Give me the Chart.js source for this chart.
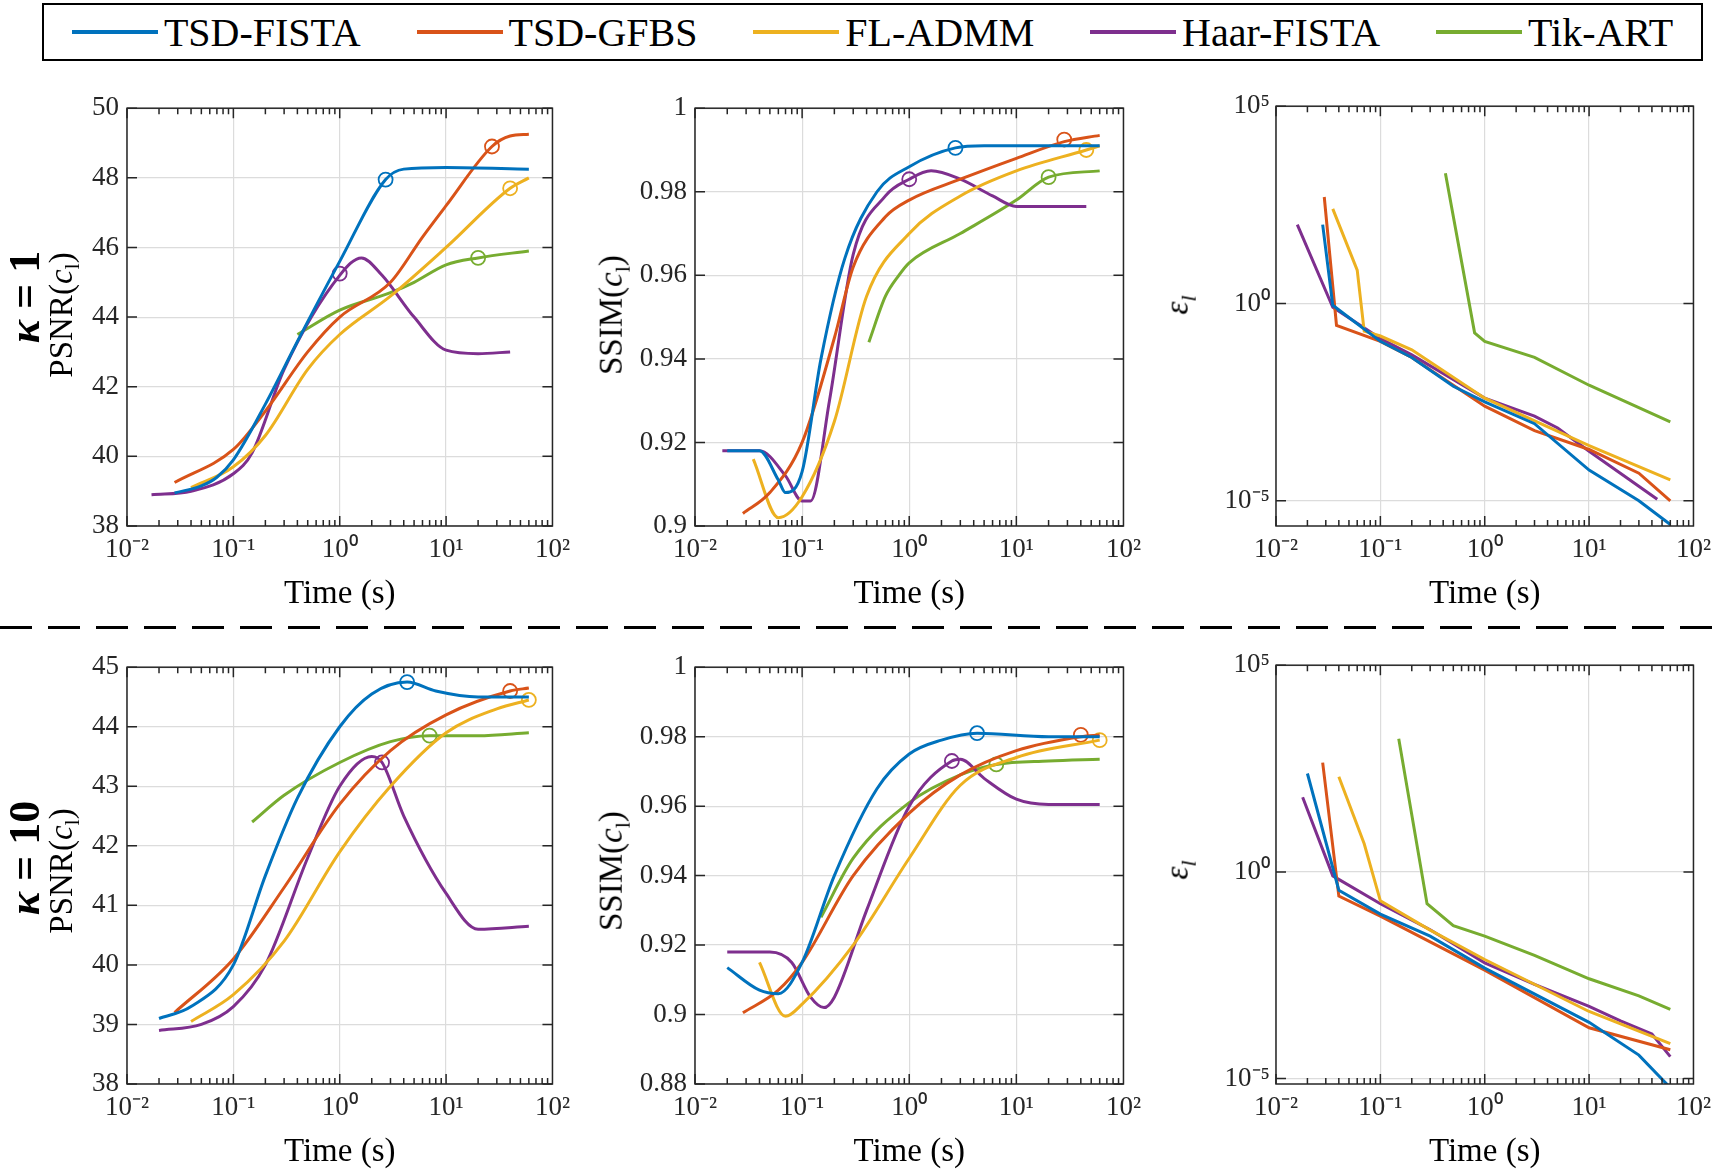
<!DOCTYPE html>
<html>
<head>
<meta charset="utf-8">
<script src="https://cdn.jsdelivr.net/npm/chart.js@4"></script>
<style>
  body { margin: 0; width: 1724px; height: 1174px; background: #fff; position: relative; overflow: hidden; font-family: "Liberation Serif", serif; }
  .panel { position: absolute; }
  .ylab { position: absolute; transform: translate(-50%, -50%) rotate(-90deg); white-space: nowrap; font-size: 33px; }
  .rowlab { position: absolute; transform: translate(-50%, -50%) rotate(-90deg); white-space: nowrap; font-size: 44px; font-weight: bold; }
  #legend { position: absolute; left: 42px; top: 3px; width: 1657px; height: 54px; border: 2px solid #000; display: flex; justify-content: space-around; align-items: center; font-size: 40px; }
  #legend span.item { display: flex; align-items: center; }
  #legend span.sw { display: inline-block; width: 86px; height: 4px; margin-right: 6px; }
  #dash { position: absolute; left: 0; top: 626px; width: 1724px; height: 3px;
          background: repeating-linear-gradient(to right, #000 0 32px, transparent 32px 48px); }
</style>
</head>
<body>
<div id="legend"></div>
<div id="dash"></div>
<script>
// series names and colours
const seriesNames = ["TSD-FISTA", "TSD-GFBS", "FL-ADMM", "Haar-FISTA", "Tik-ART"];
const seriesColors = ["#0072BD", "#D95319", "#EDB120", "#7E2F8E", "#77AC30"];

// kappa = 1, PSNR
const psnr1 = [
  [[0.028,38.95],[0.05,39.15],[0.07,39.4],[0.1,39.9],[0.2,41.5],[0.4,43.3],[1,45.6],[2.7,47.95],[4,48.25],[10,48.3],[60,48.25]],
  [[0.028,39.25],[0.1,40.2],[0.2,41.3],[0.5,43.0],[1,44.0],[3,45.0],[6,46.3],[10,47.2],[27,48.9],[40,49.2],[60,49.25]],
  [[0.04,39.1],[0.1,39.7],[0.2,40.6],[0.5,42.5],[1,43.5],[3,44.6],[10,46.0],[40,47.7],[60,48.0]],
  [[0.017,38.9],[0.04,39.0],[0.1,39.5],[0.15,40.1],[0.3,42.5],[1,45.2],[1.6,45.7],[2.5,45.2],[5,44.0],[10,43.05],[20,42.95],[40,43.0]],
  [[0.4,43.5],[1,44.2],[3,44.7],[5,45.0],[10,45.5],[20,45.7],[60,45.9]]
];
const psnr1Marks = [[2.7,47.95],[27,48.9],[40,47.7],[1,45.25],[20,45.7]];

// kappa = 1, SSIM
const ssim1 = [
  [[0.02,0.918],[0.04,0.918],[0.06,0.911],[0.07,0.908],[0.1,0.913],[0.15,0.94],[0.25,0.964],[0.5,0.980],[1,0.986],[2.7,0.9905],[5,0.991],[60,0.991]],
  [[0.028,0.903],[0.05,0.908],[0.1,0.92],[0.2,0.945],[0.3,0.962],[0.6,0.974],[1,0.978],[3,0.983],[10,0.988],[28,0.992],[60,0.9935]],
  [[0.035,0.916],[0.06,0.902],[0.1,0.907],[0.2,0.925],[0.4,0.955],[1,0.97],[3,0.979],[10,0.985],[45,0.990],[60,0.991]],
  [[0.018,0.918],[0.04,0.918],[0.07,0.912],[0.1,0.906],[0.12,0.906],[0.18,0.93],[0.3,0.965],[0.6,0.979],[1,0.983],[1.6,0.985],[3,0.983],[6,0.979],[10,0.9765],[45,0.9765]],
  [[0.42,0.944],[0.6,0.955],[0.8,0.96],[1,0.963],[3,0.970],[10,0.978],[20,0.9835],[60,0.985]]
];
const ssim1Marks = [[2.7,0.9905],[28,0.9925],[45,0.990],[1,0.983],[20,0.9835]];

// kappa = 1, residual
const res1 = [
  [[0.028,100],[0.035,0.9],[0.1,0.11],[0.2,0.043],[0.5,0.008],[1,0.0032],[3,0.0009],[10,6e-5],[30,1e-5],[60,2.5e-6]],
  [[0.029,500],[0.038,0.28],[0.1,0.11],[0.2,0.043],[1,0.0025],[3,6e-4],[10,2e-4],[30,5e-5],[60,1e-5]],
  [[0.035,250],[0.06,7],[0.07,0.2],[0.1,0.15],[0.2,0.067],[1,0.004],[10,2.5e-4],[60,3.4e-5]],
  [[0.016,100],[0.035,0.8],[0.1,0.13],[0.2,0.05],[1,0.004],[3,1.4e-3],[5,7e-4],[10,1.8e-4],[45,1.1e-5]],
  [[0.42,2000],[0.8,0.18],[1,0.11],[3,0.043],[10,0.0085],[60,1e-3]]
];

// kappa = 10, PSNR
const psnr10 = [
  [[0.02,39.1],[0.04,39.3],[0.1,40.0],[0.2,41.5],[0.4,42.8],[1,44.0],[2,44.55],[4.3,44.75],[8,44.6],[20,44.5],[60,44.5]],
  [[0.028,39.2],[0.1,40.1],[0.3,41.3],[1,42.7],[3,43.6],[10,44.2],[40,44.6],[60,44.65]],
  [[0.04,39.05],[0.1,39.5],[0.3,40.4],[1,41.9],[3,43.0],[10,43.9],[30,44.3],[60,44.45]],
  [[0.02,38.9],[0.05,39.0],[0.1,39.3],[0.2,40.0],[0.5,41.8],[1,43.0],[2,43.5],[2.5,43.4],[4,42.5],[10,41.2],[20,40.6],[60,40.65]],
  [[0.15,42.4],[0.3,42.85],[1,43.4],[3,43.75],[7,43.85],[20,43.85],[60,43.9]]
];
const psnr10Marks = [[4.3,44.75],[40,44.6],[60,44.45],[2.5,43.4],[7,43.85]];

// kappa = 10, SSIM
const ssim10 = [
  [[0.02,0.9135],[0.04,0.907],[0.06,0.906],[0.1,0.915],[0.2,0.94],[0.5,0.965],[1,0.975],[2,0.979],[4.3,0.981],[20,0.980],[60,0.980]],
  [[0.028,0.9005],[0.06,0.907],[0.1,0.915],[0.3,0.94],[1,0.958],[3,0.969],[10,0.976],[40,0.98],[60,0.9805]],
  [[0.04,0.915],[0.07,0.8995],[0.1,0.903],[0.3,0.92],[1,0.945],[3,0.966],[10,0.974],[60,0.979]],
  [[0.02,0.918],[0.05,0.918],[0.08,0.915],[0.12,0.905],[0.16,0.902],[0.2,0.905],[0.4,0.93],[1,0.96],[2.5,0.973],[3,0.9735],[5,0.968],[10,0.962],[20,0.9605],[60,0.9605]],
  [[0.15,0.928],[0.3,0.945],[1,0.961],[3,0.969],[6.5,0.972],[20,0.973],[60,0.9735]]
];
const ssim10Marks = [[4.3,0.981],[40,0.9805],[60,0.979],[2.5,0.973],[6.5,0.972]];

// kappa = 10, residual
const res10 = [
  [[0.02,240],[0.04,0.36],[0.1,0.095],[0.3,0.028],[1,0.0047],[10,2.3e-4],[30,3.7e-5],[60,6e-6]],
  [[0.028,440],[0.04,0.26],[0.1,0.085],[1,0.0042],[10,1.7e-4],[60,5e-5]],
  [[0.04,200],[0.07,4.8],[0.1,0.2],[0.3,0.039],[1,0.0076],[10,4.2e-4],[60,7e-5]],
  [[0.018,64],[0.035,0.8],[0.1,0.17],[0.3,0.04],[1,0.0063],[3,0.0019],[10,5.6e-4],[20,2.5e-4],[40,1.2e-4],[60,3.4e-5]],
  [[0.15,1660],[0.28,0.17],[0.5,0.05],[1,0.028],[3,0.0096],[10,0.0026],[30,0.001],[60,4.7e-4]]
];

const xTicks = [0.01, 0.1, 1, 10, 100];
const xTickLabels = ["10\u207B\u00B2", "10\u207B\u00B9", "10\u2070", "10\u00B9", "10\u00B2"];
const resTicks = [1e-5, 1, 1e5];
const resTickLabels = ["10\u207B\u2075", "10\u2070", "10\u2075"];

const cols = [[127, 426], [695, 429], [1276, 418]];
const rows = [[99, 427], [658, 426]];
const PADL = 90, PADT = 15, PADR = 25, XAXH = 88;

// legend
const leg = document.getElementById('legend');
seriesNames.forEach((n, i) => {
  const s = document.createElement('span');
  s.className = 'item';
  s.innerHTML = '<span class="sw" style="background:' + seriesColors[i] + '"></span>' + n;
  leg.appendChild(s);
});

function addDiv(cls, html, x, y) {
  const d = document.createElement('div');
  d.className = cls;
  d.innerHTML = html;
  d.style.left = x + 'px';
  d.style.top = y + 'px';
  document.body.appendChild(d);
}

// box + inward ticks, MATLAB style
const boxPlugin = {
  id: 'box',
  afterDraw(chart) {
    const a = chart.chartArea, ctx = chart.ctx;
    const xs = chart.scales.x, ys = chart.scales.y;
    ctx.save();
    ctx.strokeStyle = '#262626';
    ctx.lineWidth = 1.5;
    ctx.strokeRect(a.left, a.top, a.right - a.left, a.bottom - a.top);
    ctx.beginPath();
    for (let e = -2; e < 2; e++) {
      for (let m = 1; m < 10; m++) {
        const v = m * Math.pow(10, e);
        const px = xs.getPixelForValue(v);
        const len = m === 1 ? 10 : 6;
        ctx.moveTo(px, a.bottom); ctx.lineTo(px, a.bottom - len);
        ctx.moveTo(px, a.top); ctx.lineTo(px, a.top + len);
      }
    }
    ys.ticks.forEach(t => {
      const py = ys.getPixelForValue(t.value);
      ctx.moveTo(a.left, py); ctx.lineTo(a.left + 10, py);
      ctx.moveTo(a.right, py); ctx.lineTo(a.right - 10, py);
    });
    ctx.stroke();
    ctx.restore();
  }
};

function makePanel(col, row, series, marks, yopt) {
  const [left, w] = cols[col];
  const [top, h] = rows[row];
  const c = document.createElement('canvas');
  const div = document.createElement('div');
  div.className = 'panel';
  div.style.left = (left - PADL) + 'px';
  div.style.top = (top - PADT) + 'px';
  div.style.width = (w + PADL + PADR) + 'px';
  div.style.height = (h + PADT + XAXH) + 'px';
  div.appendChild(c);
  document.body.appendChild(div);

  const datasets = series.map((pts, i) => ({
    data: pts.map(p => ({ x: p[0], y: p[1] })),
    borderColor: seriesColors[i],
    borderWidth: 3,
    pointRadius: 0,
    cubicInterpolationMode: yopt.log ? 'default' : 'monotone',
    tension: 0
  }));
  if (marks) {
    marks.forEach((p, i) => datasets.push({
      data: [{ x: p[0], y: p[1] }],
      borderColor: seriesColors[i],
      backgroundColor: 'rgba(0,0,0,0)',
      borderWidth: 1.8,
      pointRadius: 7,
      showLine: false
    }));
  }

  const tickFont = { family: 'Liberation Serif', size: 27 };
  const yScale = yopt.log ? {
    type: 'logarithmic', min: yopt.min, max: yopt.max,
    afterBuildTicks: s => { s.ticks = resTicks.map(v => ({ value: v })); },
    ticks: { font: tickFont, color: '#262626', padding: 6, callback: (v) => resTickLabels[resTicks.indexOf(v)] },
    grid: { color: '#dcdcdc', lineWidth: 1.2, drawTicks: false },
    border: { display: false },
    afterFit: s => { s.width = PADL; }
  } : {
    type: 'linear', min: yopt.min, max: yopt.max,
    ticks: { font: tickFont, color: '#262626', padding: 8, stepSize: yopt.step, callback: yopt.fmt },
    grid: { color: '#dcdcdc', lineWidth: 1.2, drawTicks: false },
    border: { display: false },
    afterFit: s => { s.width = PADL; }
  };

  new Chart(c, {
    type: 'line',
    data: { datasets },
    options: {
      responsive: true, maintainAspectRatio: false, animation: false,
      layout: { padding: { top: PADT, right: PADR } },
      plugins: { legend: { display: false }, tooltip: { enabled: false } },
      scales: {
        x: {
          type: 'logarithmic', min: 0.01, max: 100,
          afterBuildTicks: s => { s.ticks = xTicks.map(v => ({ value: v })); },
          ticks: { font: tickFont, color: '#262626', padding: 8, maxRotation: 0, callback: v => xTickLabels[xTicks.indexOf(v)] },
          grid: { color: '#dcdcdc', lineWidth: 1.2, drawTicks: false },
          border: { display: false },
          title: { display: true, text: 'Time (s)', font: { family: 'Liberation Serif', size: 33 }, color: '#000', padding: { top: 4, bottom: 0 } },
          afterFit: s => { s.height = XAXH; }
        },
        y: yScale
      }
    },
    plugins: [boxPlugin]
  });
}

const intFmt = v => String(v);
const ssimFmt = v => String(Math.round(v * 100) / 100);

makePanel(0, 0, psnr1, psnr1Marks, { min: 38, max: 50, step: 2, fmt: intFmt });
makePanel(1, 0, ssim1, ssim1Marks, { min: 0.9, max: 1, step: 0.02, fmt: ssimFmt });
makePanel(2, 0, res1, null, { log: true, min: 2.3e-6, max: 1e5 });
makePanel(0, 1, psnr10, psnr10Marks, { min: 38, max: 45, step: 1, fmt: intFmt });
makePanel(1, 1, ssim10, ssim10Marks, { min: 0.88, max: 1, step: 0.02, fmt: ssimFmt });
makePanel(2, 1, res10, null, { log: true, min: 7.4e-6, max: 1e5 });

// y titles and row labels
const psnrLab = 'PSNR(<i>c</i><sub style="font-size:22px">l</sub>)';
const ssimLab = 'SSIM(<i>c</i><sub style="font-size:22px">l</sub>)';
const epsLab = '<i>\u03B5</i><sub style="font-size:22px"><i>l</i></sub>';
addDiv('ylab', psnrLab, 64, 315);
addDiv('ylab', ssimLab, 614, 315);
addDiv('ylab', epsLab, 1180, 305);
addDiv('ylab', psnrLab, 64, 871);
addDiv('ylab', ssimLab, 614, 871);
addDiv('ylab', epsLab, 1180, 870);
addDiv('rowlab', '<i>\u03BA</i> = 1', 24, 297);
addDiv('rowlab', '<i>\u03BA</i> = 10', 24, 858);
</script>
</body>
</html>
